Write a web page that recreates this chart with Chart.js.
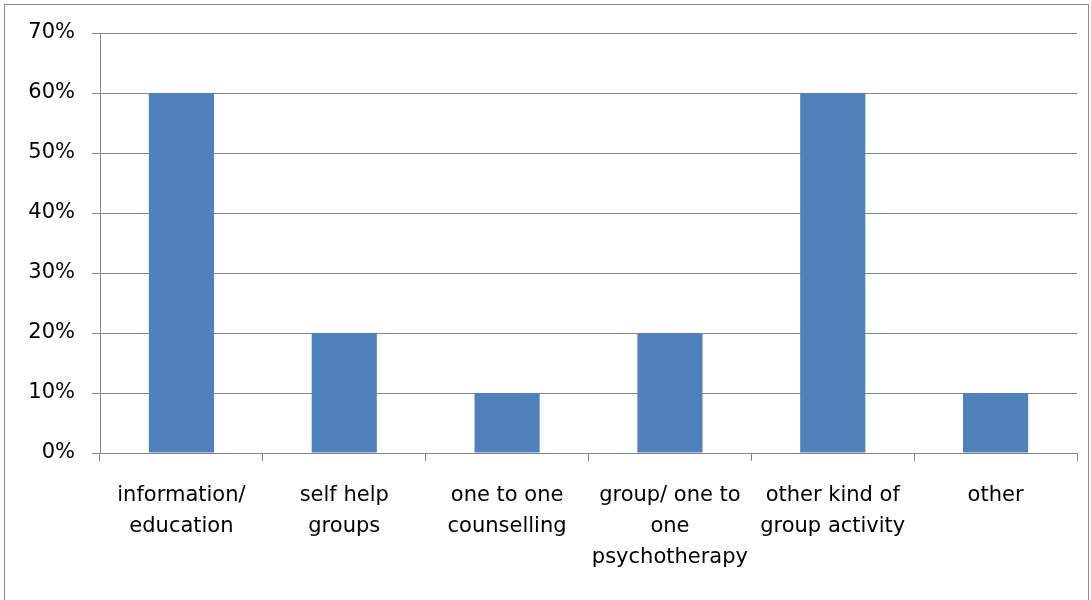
<!DOCTYPE html>
<html>
<head>
<meta charset="utf-8">
<script src="https://cdn.jsdelivr.net/npm/chart.js@4"></script>
<style>
  html, body { margin: 0; padding: 0; background: #fff; }
  #wrap { position: relative; width: 1091px; height: 600px; }
  #frame { position: absolute; left: 4px; top: 4px; width: 1085px; height: 600px; border: 1px solid #8c8c8c; border-bottom: none; box-sizing: border-box; pointer-events: none; }
  canvas { position: absolute; left: 0; top: 0; }
</style>
</head>
<body>
<div id="wrap">
  <canvas id="c" width="1091" height="600"></canvas>
  <div id="frame"></div>
</div>
<script>
const categories = [
  ["information/", "education"],
  ["self help", "groups"],
  ["one to one", "counselling"],
  ["group/ one to", "one", "psychotherapy"],
  ["other kind of", "group activity"],
  ["other"]
];
const shares = [60, 20, 10, 20, 60, 10];
const yTicks = [0, 10, 20, 30, 40, 50, 60, 70];

const gridGray = '#868686';
const font = { family: '"DejaVu Sans", sans-serif', size: 21 };

new Chart(document.getElementById('c'), {
  type: 'bar',
  data: {
    labels: categories,
    datasets: [{
      data: shares,
      backgroundColor: '#4f81bd',
      borderWidth: 0,
      barPercentage: 0.4,
      categoryPercentage: 1
    }]
  },
  options: {
    responsive: false,
    animation: false,
    layout: { padding: { left: 0, top: 33, right: 14, bottom: 0 } },
    plugins: { legend: { display: false }, tooltip: { enabled: false } },
    scales: {
      x: {
        offset: true,
        grid: {
          offset: true,
          drawOnChartArea: false,
          drawTicks: true,
          tickLength: 8,
          color: gridGray
        },
        border: { color: gridGray },
        ticks: {
          color: '#000',
          font: { ...font, lineHeight: 1.48 },
          padding: 19,
          maxRotation: 0,
          autoSkip: false
        },
        afterFit: s => { s.height = 147; }
      },
      y: {
        min: 0,
        max: 70,
        afterBuildTicks: s => { s.ticks = yTicks.map(v => ({ value: v })); },
        grid: { color: gridGray, tickLength: 8 },
        border: { color: gridGray },
        ticks: {
          color: '#000',
          font: font,
          padding: 17,
          callback: v => v + '%'
        },
        afterFit: s => { s.width = 100; }
      }
    }
  }
});
</script>
</body>
</html>
